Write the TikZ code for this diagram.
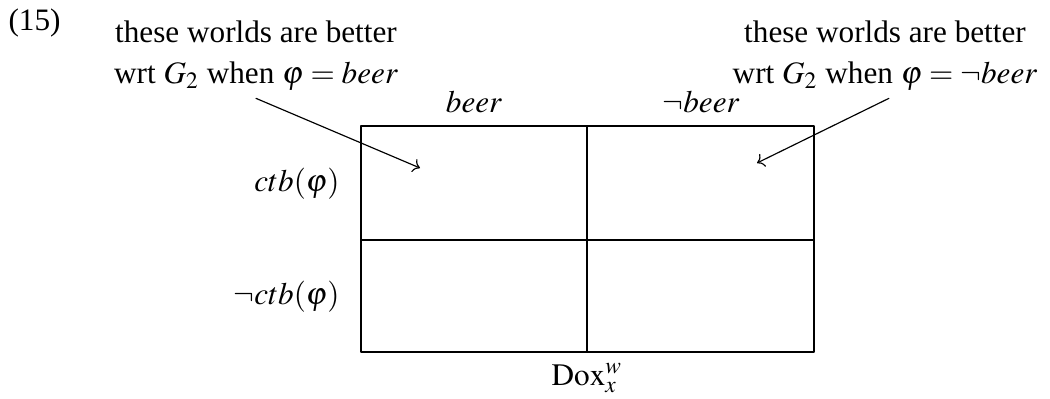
\documentclass[tikz,border=0pt]{standalone}
\usepackage{mathptmx}
\usepackage[no-math]{fontspec}
\setmainfont{Liberation Serif}
\usetikzlibrary{arrows.meta,positioning}
\definecolor{ink}{HTML}{000000}
\tikzset{
  every picture/.style={line cap=round, line join=round},
  px/.style={x=0.3846pt, y=-0.3846pt},
  grid/.style={draw=ink, line width=0.5pt},
  ptr/.style={->, draw=ink, line width=0.45pt},
  note/.style={align=center, font=\fontsize{12}{16}\selectfont, text=ink, inner sep=0pt},
  lbl/.style={font=\fontsize{12}{14}\selectfont, text=ink, inner sep=0pt},
}

\begin{document}
\begin{tikzpicture}[px]
  \useasboundingbox (0,0) rectangle (1050,398);
  % ======================= the table =======================
  \coordinate (tl) at (361,126);
  \coordinate (br) at (814,352);
  \coordinate (mid) at (587,240);
  \draw[grid] (tl) rectangle (br);
  \draw[grid] (mid |- tl) -- (mid |- br);
  \draw[grid] (tl |- mid) -- (br |- mid);
  % column and row heads
  \node[lbl, anchor=base] (beer) at (474,112) {$beer$};
  \node[lbl, anchor=base] (nbeer) at (701,112) {$\neg beer$};
  \node[lbl, anchor=east] (ctb) at (340,184) {$ctb(\varphi)$};
  \node[lbl, anchor=east] (nctb) at (340,297) {$\neg ctb(\varphi)$};
  \node[lbl, anchor=base] (dox) at (587,385) {$\mathrm{Dox}_x^w$};
  % ======================= the notes =======================
  \node[lbl, anchor=base west] (num) at (8,30) {(15)};
  \node[note, anchor=north] (left) at (256,20) {these worlds are better\\
    wrt $G_2$ when $\varphi=beer$};
  \node[note, anchor=north] (right) at (885,20) {these worlds are better\\
    wrt $G_2$ when $\varphi=\neg beer$};
  \coordinate (inbeer) at (420,168);
  \coordinate (innbeer) at (757,163);
  \draw[ptr] ([yshift=-2.7pt]left.south) -- (inbeer);
  \draw[ptr] ([xshift=1.5pt,yshift=-2.7pt]right.south) -- (innbeer);
\end{tikzpicture}
\end{document}
